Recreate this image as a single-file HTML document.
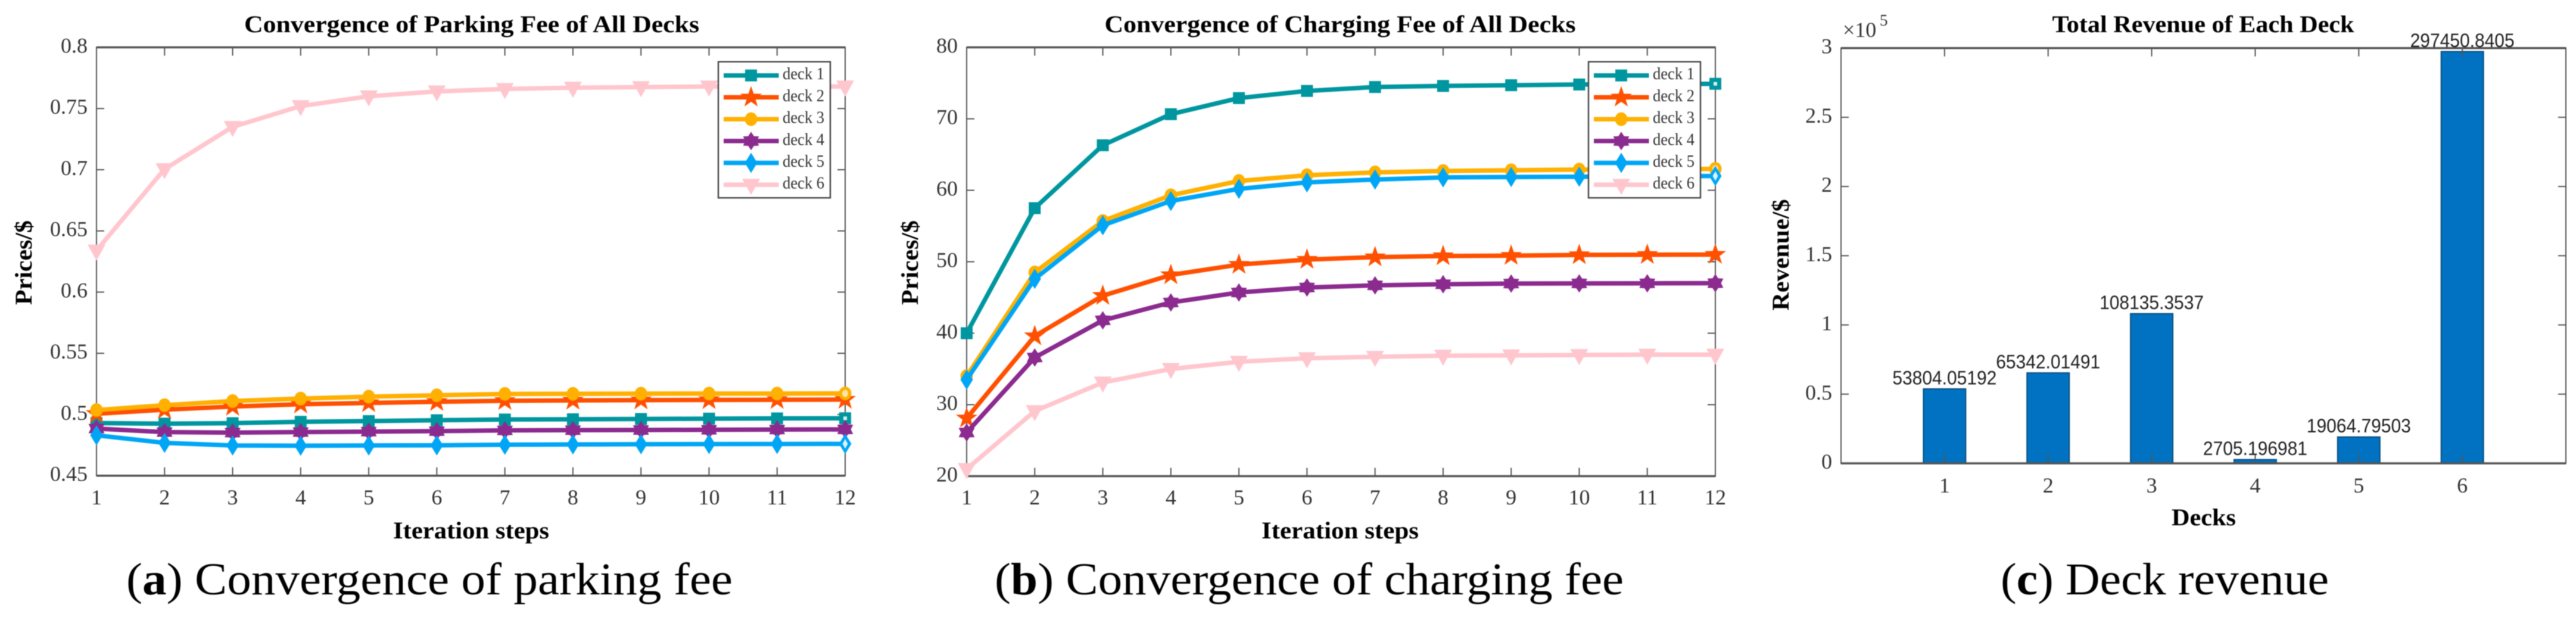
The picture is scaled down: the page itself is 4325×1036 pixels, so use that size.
<!DOCTYPE html>
<html lang="en">
<head>
<meta charset="utf-8">
<title>Convergence of parking fee, charging fee and deck revenue</title>
<style>
html,body{margin:0;padding:0;background:#fff;}
body{width:4325px;height:1036px;overflow:hidden;}
svg{display:block;filter:blur(0.7px);}
text{font-family:"Liberation Serif",serif;fill:#333;}
.title,.axis-label,.caption{fill:#000;}
.title,.axis-label{font-weight:bold;}
.bar-label{font-family:"Liberation Sans",sans-serif;fill:#222;}
</style>
</head>
<body>
<svg id="figure" xmlns="http://www.w3.org/2000/svg" width="4325" height="1036" viewBox="0 0 4325 1036">
  <rect x="0" y="0" width="4325" height="1036" fill="#ffffff"/>
  <g id="panel-a"></g>
  <g id="panel-b"></g>
  <g id="panel-c"></g>

  <text class="title" x="792" y="54" font-size="40" text-anchor="middle" textLength="764" lengthAdjust="spacingAndGlyphs">Convergence of Parking Fee of All Decks</text>
  <text class="title" x="2250" y="54" font-size="40" text-anchor="middle" textLength="791" lengthAdjust="spacingAndGlyphs">Convergence of Charging Fee of All Decks</text>
  <text class="title" x="3699" y="54" font-size="40" text-anchor="middle" textLength="507" lengthAdjust="spacingAndGlyphs">Total Revenue of Each Deck</text>

  <text class="axis-label" x="791" y="904" font-size="40" text-anchor="middle" textLength="262" lengthAdjust="spacingAndGlyphs">Iteration steps</text>
  <text class="axis-label" x="2250" y="904" font-size="40" text-anchor="middle" textLength="264" lengthAdjust="spacingAndGlyphs">Iteration steps</text>
  <text class="axis-label" x="3700" y="882" font-size="40" text-anchor="middle" textLength="108" lengthAdjust="spacingAndGlyphs">Decks</text>

  <text class="axis-label" transform="translate(53 441) rotate(-90)" font-size="40" text-anchor="middle" textLength="142" lengthAdjust="spacingAndGlyphs">Prices/$</text>
  <text class="axis-label" transform="translate(1541 441) rotate(-90)" font-size="40" text-anchor="middle" textLength="142" lengthAdjust="spacingAndGlyphs">Prices/$</text>
  <text class="axis-label" transform="translate(3003 428) rotate(-90)" font-size="40" text-anchor="middle" textLength="187" lengthAdjust="spacingAndGlyphs">Revenue/$</text>

  <text x="3094" y="62" font-size="36">×10</text>
  <text x="3156" y="43" font-size="27">5</text>

  <text class="caption" x="212" y="998" font-size="76" textLength="1018" lengthAdjust="spacingAndGlyphs">(<tspan font-weight="bold">a</tspan>) Convergence of parking fee</text>
  <text class="caption" x="1670" y="998" font-size="76" textLength="1056" lengthAdjust="spacingAndGlyphs">(<tspan font-weight="bold">b</tspan>) Convergence of charging fee</text>
  <text class="caption" x="3359" y="998" font-size="76" textLength="551" lengthAdjust="spacingAndGlyphs">(<tspan font-weight="bold">c</tspan>) Deck revenue</text>
</svg>

<script>
// ---- Data ----
const iterations = [1,2,3,4,5,6,7,8,9,10,11,12];
const deckNames = ['deck 1','deck 2','deck 3','deck 4','deck 5','deck 6'];

const parkingDeck1 = [0.4930,0.4925,0.4929,0.4940,0.4946,0.4953,0.4959,0.4961,0.4963,0.4966,0.4968,0.4969];
const parkingDeck2 = [0.5006,0.5039,0.5065,0.5084,0.5094,0.5104,0.5112,0.5115,0.5117,0.5119,0.5120,0.5122];
const parkingDeck3 = [0.5036,0.5076,0.5110,0.5130,0.5146,0.5157,0.5168,0.5169,0.5170,0.5171,0.5171,0.5172];
const parkingDeck4 = [0.4885,0.4856,0.4852,0.4856,0.4860,0.4864,0.4870,0.4872,0.4873,0.4875,0.4877,0.4878];
const parkingDeck5 = [0.4830,0.4768,0.4747,0.4745,0.4747,0.4748,0.4753,0.4755,0.4757,0.4758,0.4759,0.4760];
const parkingDeck6 = [0.6340,0.7005,0.7350,0.7520,0.7600,0.7640,0.7660,0.7670,0.7675,0.7680,0.7680,0.7680];

const chargingDeck1 = [40.0,57.5,66.3,70.65,72.9,73.9,74.45,74.6,74.7,74.8,74.85,74.9];
const chargingDeck2 = [28.1,39.6,45.25,48.15,49.6,50.3,50.65,50.8,50.85,50.95,50.98,51.0];
const chargingDeck3 = [34.0,48.5,55.7,59.3,61.3,62.1,62.5,62.7,62.8,62.9,62.9,63.0];
const chargingDeck4 = [26.1,36.6,41.8,44.3,45.7,46.4,46.7,46.85,46.95,46.97,46.98,47.0];
const chargingDeck5 = [33.5,47.6,55.1,58.5,60.2,61.1,61.5,61.8,61.85,61.9,61.95,62.0];
const chargingDeck6 = [21.0,29.1,33.1,35.0,36.0,36.5,36.7,36.85,36.9,36.95,37.0,37.0];

const parkingTicks = [0.45,0.5,0.55,0.6,0.65,0.7,0.75,0.8];
const parkingTickLabels = ['0.45','0.5','0.55','0.6','0.65','0.7','0.75','0.8'];
const chargingTicks = [20,30,40,50,60,70,80];
const chargingTickLabels = ['20','30','40','50','60','70','80'];

const revenueDecks = [1,2,3,4,5,6];
const revenueValues = [53804.05192,65342.01491,108135.3537,2705.196981,19064.79503,297450.8405];
const revenueTicks = [0,50000,100000,150000,200000,250000,300000];
const revenueTickLabels = ['0','0.5','1','1.5','2','2.5','3'];

// ---- Styling per deck ----
const deckColors = ['#00969f','#ff5000','#ffb000','#8b2a8f','#00a6f5','#ffc6ce'];
const deckShapes = ['square','star','circle','hexagram','diamond','triangle'];
const AXIS = '#555555';
const NS = 'http://www.w3.org/2000/svg';

function el(parent, tag, attrs) {
  const e = document.createElementNS(NS, tag);
  for (const k in attrs) e.setAttribute(k, attrs[k]);
  parent.appendChild(e);
  return e;
}
function pts(list) {
  return list.map(function (p) { return p[0].toFixed(2) + ',' + p[1].toFixed(2); }).join(' ');
}
function starPts(cx, cy, n, ro, ri) {
  const out = [];
  for (let i = 0; i < n * 2; i++) {
    const r = i % 2 ? ri : ro;
    const a = -Math.PI / 2 + i * Math.PI / n;
    out.push([cx + r * Math.cos(a), cy + r * Math.sin(a)]);
  }
  return out;
}
function drawMarker(parent, shape, x, y, color) {
  if (shape === 'square') return el(parent, 'rect', {x: x - 10, y: y - 10, width: 20, height: 20, fill: color});
  if (shape === 'circle') return el(parent, 'ellipse', {cx: x, cy: y, rx: 10.5, ry: 11.5, fill: color});
  if (shape === 'star') return el(parent, 'polygon', {points: pts(starPts(x, y, 5, 19, 7.5)), fill: color});
  if (shape === 'hexagram') return el(parent, 'polygon', {points: pts(starPts(x, y, 6, 15.5, 9.5)), fill: color});
  if (shape === 'diamond') return el(parent, 'polygon', {points: pts([[x, y - 17], [x + 10.5, y], [x, y + 17], [x - 10.5, y]]), fill: color});
  return el(parent, 'polygon', {points: pts([[x - 15, y - 10], [x + 15, y - 10], [x, y + 17]]), fill: color});
}
function drawHollowCentre(parent, shape, x, y) {
  if (shape === 'square') return el(parent, 'rect', {x: x - 3, y: y - 3, width: 6, height: 6, fill: '#ffffff', opacity: 0.85});
  if (shape === 'circle') return el(parent, 'ellipse', {cx: x, cy: y, rx: 5, ry: 6, fill: '#ffe6a8'});
  return el(parent, 'polygon', {points: pts([[x, y - 8], [x + 4.5, y], [x, y + 8], [x - 4.5, y]]), fill: '#ffffff', opacity: 0.85});
}
function drawText(parent, x, y, str, size, anchor) {
  const t = el(parent, 'text', {x: x, y: y, 'font-size': size, 'text-anchor': anchor});
  t.textContent = str;
  return t;
}
function drawFrame(parent, box) {
  const f = el(parent, 'rect', {x: box.l, y: box.t, width: box.r - box.l, height: box.b - box.t, fill: 'none', stroke: AXIS, 'stroke-width': 2});
  
  
  const top = el(parent, 'line', {x1: box.l, x2: box.r, y1: box.t, y2: box.t, stroke: AXIS, 'stroke-width': 3.5});
  
  
  const bottom = el(parent, 'line', {x1: box.l, x2: box.r, y1: box.b, y2: box.b, stroke: AXIS, 'stroke-width': 3.5});
  
  
}
function drawYTicks(parent, box, ticks, labels, yScale, labelRight) {
  ticks.forEach(function (v, i) {
    const y = yScale(v);
    const left = el(parent, 'line', {x1: box.l, x2: box.l + 13, y1: y, y2: y, stroke: AXIS, 'stroke-width': 2});
    
    
    const right = el(parent, 'line', {x1: box.r - 13, x2: box.r, y1: y, y2: y, stroke: AXIS, 'stroke-width': 2});
    
    
    const t = drawText(parent, labelRight, y + 9, labels[i], 36, 'end');
    
    
  });
}
function drawXTicks(parent, box, values, xScale, labelY) {
  values.forEach(function (v) {
    const x = xScale(v);
    if (x > box.l + 1 && x < box.r - 1) {
      const top = el(parent, 'line', {x1: x, x2: x, y1: box.t, y2: box.t + 14, stroke: AXIS, 'stroke-width': 2});
      
      
      const bottom = el(parent, 'line', {x1: x, x2: x, y1: box.b - 14, y2: box.b, stroke: AXIS, 'stroke-width': 2});
      
      
    }
    const t = drawText(parent, x, labelY, String(v), 36, 'middle');
    
    
  });
}
function drawLegend(parent, box) {
  const x0 = box.r - 213;
  const y0 = 103.7;
  const g = el(parent, 'g', {});
  
  
  const bg = el(g, 'rect', {x: x0, y: y0, width: 188, height: 228.5, fill: '#ffffff', stroke: '#444444', 'stroke-width': 2.4});
  
  
  deckNames.forEach(function (name, i) {
    const y = y0 + 23 + i * 36.7;
    const entry = el(g, 'g', {});
    
    
    el(entry, 'line', {x1: x0 + 9, x2: x0 + 101.5, y1: y, y2: y, stroke: deckColors[i], 'stroke-width': 7.5});
    drawMarker(entry, deckShapes[i], x0 + 55, y, deckColors[i]);
    const t = drawText(entry, x0 + 108, y + 6.5, name, 28, 'start');
    t.setAttribute('textLength', '70');
    t.setAttribute('lengthAdjust', 'spacingAndGlyphs');
    t.setAttribute('fill', '#222222');
  });
}
function drawLineChart(parent, box, series, ticks, labels, yMin, yMax, labelRight) {
  const xScale = function (v) { return box.l + (v - 1) / 11 * (box.r - box.l); };
  const yScale = function (v) { return box.b - (v - yMin) / (yMax - yMin) * (box.b - box.t); };
  drawFrame(parent, box);
  drawXTicks(parent, box, iterations, xScale, 847);
  drawYTicks(parent, box, ticks, labels, yScale, labelRight);
  series.forEach(function (values, s) {
    const g = el(parent, 'g', {});
    
    
    const line = el(g, 'polyline', {
      points: pts(values.map(function (v, i) { return [xScale(iterations[i]), yScale(v)]; })),
      fill: 'none', stroke: deckColors[s], 'stroke-width': 7.5, 'stroke-linejoin': 'round'
    });
    
    
    values.forEach(function (v, i) {
      const m = drawMarker(g, deckShapes[s], xScale(iterations[i]), yScale(v), deckColors[s]);
      
      
    });
    if (s === 0 || s === 2 || s === 4) {
      const last = values.length - 1;
      const h = drawHollowCentre(g, deckShapes[s], xScale(iterations[last]), yScale(values[last]));
      
      
    }
  });
  drawLegend(parent, box);
}
function drawBarChart(parent, box) {
  const xScale = function (v) { return box.l + v / 7 * (box.r - box.l); };
  const yScale = function (v) { return box.b - v / 300000 * (box.b - box.t); };
  revenueValues.forEach(function (v, i) {
    const cx = xScale(revenueDecks[i]);
    const top = yScale(v);
    const bar = el(parent, 'rect', {x: cx - 35.5, y: top, width: 71, height: box.b - top, fill: '#0072c1', stroke: '#0a4f80', 'stroke-width': 2});
    
    
  });
  drawFrame(parent, box);
  drawXTicks(parent, box, revenueDecks, xScale, 827);
  drawYTicks(parent, box, revenueTicks, revenueTickLabels, yScale, 3076);
  revenueValues.forEach(function (v, i) {
    const t = drawText(parent, xScale(revenueDecks[i]), yScale(v) - 7.5, String(v), 32, 'middle');
    t.setAttribute('class', 'bar-label');
    t.setAttribute('textLength', '175');
    t.setAttribute('lengthAdjust', 'spacingAndGlyphs');
    
    
  });
}

drawLineChart(document.getElementById('panel-a'),
  {l: 162, r: 1419, t: 79.5, b: 798.7},
  [parkingDeck1, parkingDeck2, parkingDeck3, parkingDeck4, parkingDeck5, parkingDeck6],
  parkingTicks, parkingTickLabels, 0.45, 0.8, 147);
drawLineChart(document.getElementById('panel-b'),
  {l: 1623, r: 2880, t: 79.5, b: 799.5},
  [chargingDeck1, chargingDeck2, chargingDeck3, chargingDeck4, chargingDeck5, chargingDeck6],
  chargingTicks, chargingTickLabels, 20, 80, 1608);
drawBarChart(document.getElementById('panel-c'), {l: 3091, r: 4308, t: 80.7, b: 778});
</script>
</body>
</html>
